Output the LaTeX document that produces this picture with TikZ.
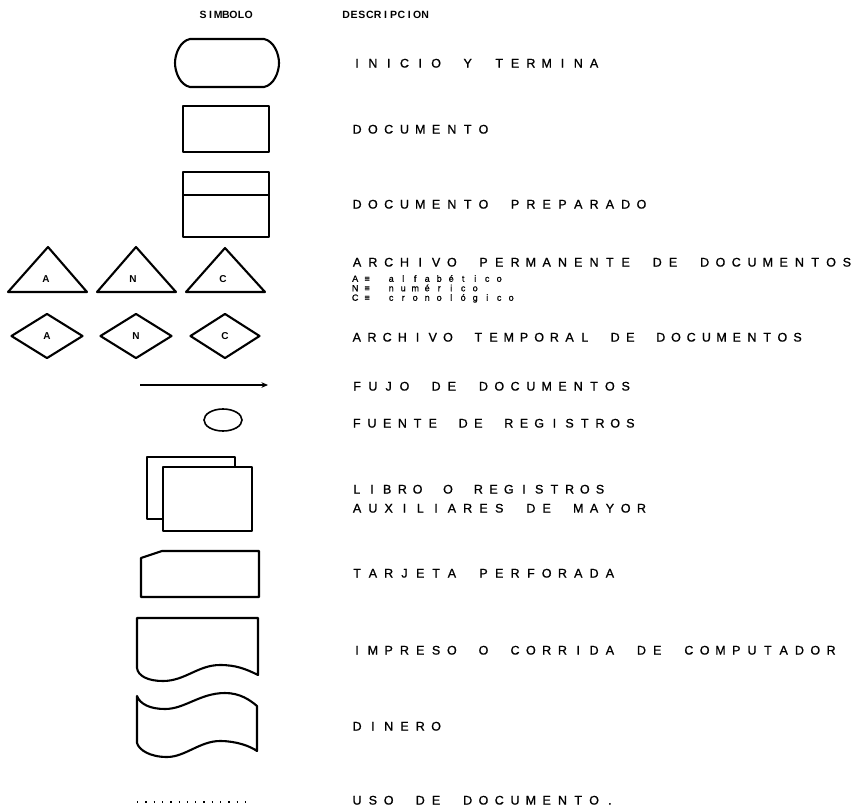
\documentclass[tikz,border=0pt]{standalone}
\usepackage{fontspec}
\setmainfont{Liberation Sans}
\newfontfamily\descfont[FakeBold=1]{Liberation Sans}
\usetikzlibrary{shapes.geometric,arrows.meta}
\ExplSyntaxOn
\NewDocumentCommand\spaced{O{15.8}m}{\tl_map_inline:nn{#2}{\makebox[#1pt][c]{##1}}}
\ExplSyntaxOff
\begin{document}
\begin{tikzpicture}[x=1pt,y=-1pt,
  shp/.style={draw, line width=2.1pt, line join=round, inner sep=0pt},
  desc/.style={anchor=west, inner sep=0pt, font=\descfont\fontsize{12.5}{13}\selectfont, text height=9.1pt, text depth=0pt},
  small/.style={anchor=west, inner sep=0pt, font=\descfont\fontsize{9}{9.5}\selectfont, text height=6.5pt, text depth=0pt},
  head/.style={anchor=west, inner sep=0pt, font=\bfseries\fontsize{10.5}{11}\selectfont, text height=7.6pt, text depth=0pt},
  lbl/.style={inner sep=0pt, font=\bfseries\fontsize{10}{11}\selectfont}]
\useasboundingbox (0,0) rectangle (864,808);
% headers
\node[head] (h1) at (199,15) {\spaced[7.6]{SIMBOLO}};
\node[head] (h2) at (342,15) {\spaced[7.9]{DESCRIPCION}};
% terminal
\draw[shp] (190,39) -- (264,39) .. controls (274,41) and (279,54) .. (279,63) .. controls (279,72) and (274,85) .. (264,87) -- (190,87) .. controls (180,85) and (175,72) .. (175,63) .. controls (175,54) and (180,41) .. (190,39) -- cycle;
% document
\node[shp, minimum width=86pt, minimum height=46pt] (doc) at (226,129) {};
% prepared document
\node[shp, minimum width=86pt, minimum height=65pt] (prep) at (226,204.5) {};
\draw[shp] (183,195) -- (269,195);
% triangles
\draw[shp] (8,292) -- (48,247) -- (87,292) -- cycle;
\draw[shp] (97,292) -- (136,247) -- (176,292) -- cycle;
\draw[shp] (186,292) -- (225,248) -- (265,292) -- cycle;
\node[lbl] (ta) at (46,279) {A};
\node[lbl] (tn) at (133,279) {N};
\node[lbl] (tc) at (223,279) {C};
% diamonds
\node[shp, diamond, minimum width=72pt, minimum height=45pt, lbl] (da) at (47,336) {A};
\node[shp, diamond, minimum width=72pt, minimum height=45pt, lbl] (dn) at (136,336) {N};
\node[shp, diamond, minimum width=70pt, minimum height=45pt, lbl] (dc) at (225,336) {C};
% flow arrow
\coordinate (fa) at (140,385);
\coordinate (fb) at (268,385);
\draw[line width=1.2pt, -{Stealth[length=6.5pt,width=5.5pt]}] (fa) -- (fb);
% source
\node[shp, ellipse, line width=1.6pt, minimum width=38pt, minimum height=22pt] (fuente) at (223,420) {};
% libro
\draw[shp] (163,519) -- (147,519) -- (147,457) -- (235,457) -- (235,467);
\node[shp, minimum width=89pt, minimum height=64pt] (libro) at (207.5,499) {};
% tarjeta
\draw[shp] (141,558) -- (162,551) -- (259,551) -- (259,597) -- (141,597) -- cycle;
% impreso
\draw[shp] (137,668) -- (137,618) -- (258,618) -- (258,675) .. controls (246,669) and (236,665) .. (220,665) .. controls (198,665) and (185,681) .. (163,681) .. controls (148,681) and (138,676) .. (137,668) -- cycle;
% dinero
\draw[shp] (137,696) .. controls (140,704) and (150,709) .. (165,709) .. controls (185,709) and (200,693) .. (225,693) .. controls (240,693) and (250,700) .. (257,706) -- (257,751) .. controls (250,746) and (236,741) .. (220,741) .. controls (200,741) and (185,757) .. (167,757) .. controls (150,757) and (139,750) .. (137,743) -- cycle;
% uso
\coordinate (u1) at (137,802);
\coordinate (u2) at (246,802);
\draw[line width=1.2pt, dash pattern=on 1.3pt off 7pt] (u1) -- (u2);
% descriptions
\node[desc] (t1) at (349,63) {\spaced{INICIO~Y~TERMINA}};
\node[desc] (t2) at (349,129) {\spaced{DOCUMENTO}};
\node[desc] (t3) at (349,204) {\spaced{DOCUMENTO~PREPARADO}};
\node[desc] (t4) at (349,262) {\spaced{ARCHIVO~PERMANENTE~DE~DOCUMENTOS}};
\node[small] (s1) at (349,278.5) {\spaced[12]{A≡~alfabético}};
\node[small] (s2) at (349,288) {\spaced[12]{N≡~numérico}};
\node[small] (s3) at (349,297.5) {\spaced[12]{C≡~cronológico}};
\node[desc] (t5) at (349,337) {\spaced[15.2]{ARCHIVO~TEMPORAL~DE~DOCUMENTOS}};
\node[desc] (t6) at (349,386) {\spaced{FUJO~DE~DOCUMENTOS}};
\node[desc] (t7) at (349,423) {\spaced[15.2]{FUENTE~DE~REGISTROS}};
\node[desc] (t8) at (349,489) {\spaced[15.2]{LIBRO~O~REGISTROS}};
\node[desc] (t9) at (349,508) {\spaced{AUXILIARES~DE~MAYOR}};
\node[desc] (t10) at (349,573) {\spaced{TARJETA~PERFORADA}};
\node[desc] (t11) at (349,650) {\spaced{IMPRESO~O~CORRIDA~DE~COMPUTADOR}};
\node[desc] (t12) at (349,726) {\spaced{DINERO}};
\node[desc] (t13) at (349,800) {\spaced{USO~DE~DOCUMENTO.}};
\end{tikzpicture}
\end{document}
